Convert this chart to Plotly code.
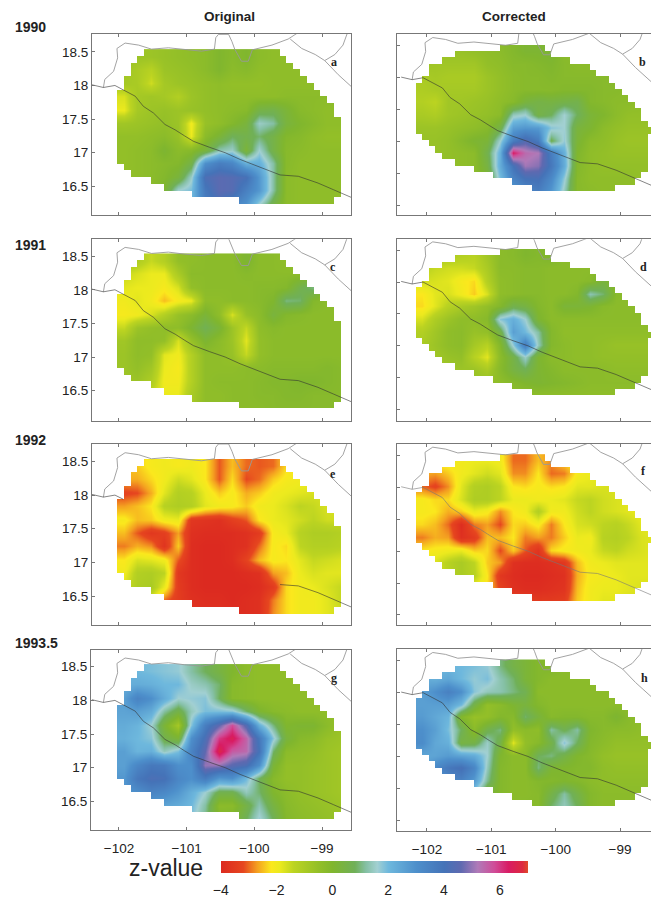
import plotly.graph_objects as go

# ---------- chart data ----------
lon_left = [-101.93, -101.73, -101.53, -101.33, -101.13, -100.93, -100.73, -100.53, -100.33,
            -100.13, -99.93, -99.73, -99.53, -99.33, -99.13, -98.93, -98.73]
lon_right = [-102.07, -101.87, -101.67, -101.47, -101.27, -101.07, -100.87, -100.67, -100.47, -100.27,
             -100.07, -99.87, -99.67, -99.47, -99.27, -99.07, -98.87, -98.67, -98.47]
lat_left = [18.44, 18.24, 18.04, 17.84, 17.64, 17.44, 17.24, 17.04, 16.84, 16.64, 16.44, 16.24]
lat_right = [18.42, 18.22, 18.02, 17.82, 17.62, 17.42, 17.22, 17.02, 16.82, 16.62, 16.42, 16.22]

z_a = [
 [-.6,-.7,-.7,-.6,-.5,-.4,-.3,0,-.2,0,-.3,-.4,-.4,-.4,-.4,-.4,-.4],
 [-.8,-1,-1.3,-.7,-.6,-.5,-.3,0,-.3,-.2,-.4,-.4,-.4,-.4,-.4,-.3,-.3],
 [-.9,-1,-1.6,-.9,-.7,-.6,-.5,-.4,-.5,-.5,-.5,-.4,-.4,-.4,-.4,-.3,-.3],
 [-1.7,-.9,-.8,-.9,-1.2,-.7,-.5,-.4,-.4,-.4,-.4,-.4,-.3,-.3,-.3,-.3,-.3],
 [-1.9,-.9,-.7,-.6,-.7,-.6,-.5,-.4,-.3,-.2,.5,.6,.2,-.2,-.3,-.4,-.4],
 [-.8,-.7,-.6,-.5,-.7,-2,-.6,-.4,-.1,.3,1.5,1.2,.3,0,-.2,-.4,-.4],
 [-.5,-.5,-.4,-.3,-.6,-1.9,-.3,.2,.8,.6,.9,.5,-.1,-.2,-.4,-.5,-.5],
 [-.5,-.4,-.3,.1,-.3,-.2,.3,1.3,1.5,.2,1.6,.5,-.2,-.3,-.4,-.4,-.4],
 [-.5,-.4,-.3,-.2,-.1,.5,3.0,3.6,3.3,2.2,2.2,1.2,-.2,-.4,-.4,-.4,-.4],
 [-.5,-.4,-.3,-.1,.3,1.5,4.2,4.5,4.4,4.1,2.8,1.2,-.3,-.4,-.4,-.4,-.4],
 [-.5,-.4,-.3,.1,1.6,1.9,3.8,4.5,4.4,3.5,2.8,1.2,-.3,-.4,-.4,-.4,-.4],
 [-.4,-.3,0,.5,1.6,2.0,3.6,4.0,3.4,2.9,1.6,.5,-.3,-.4,-.4,-.4,-.4],
]
z_c = [
 [-.9,-1.1,-1.5,-1.2,-.5,-.4,-.3,-.3,-.3,.1,-.3,-.3,-.4,-.4,-.4,-.4,-.4],
 [-1.5,-1.7,-1.9,-1.9,-1.0,-.3,-.3,-.3,-.3,-.2,-.3,-.3,-.3,-.3,-.3,-.3,-.3],
 [-1.8,-1.9,-1.9,-2.1,-1.7,-.5,-.3,-.3,-.3,-.3,-.2,-.2,-.1,.6,1.0,-.2,-.3],
 [-2,-1.8,-2,-2.5,-2.1,-1.9,-.4,-.4,-.3,-.3,-.2,0,1.0,.9,-.1,-.3,-.3],
 [-2.1,-2,-1.7,-1.2,-.6,-.3,.2,-.4,-1.7,-.6,-.3,.3,-.1,-.2,-.3,-.3,-.3],
 [-1.5,-.7,-.5,-.4,-.4,.1,.7,.2,-.7,-1.5,-.4,-.2,-.3,-.3,-.3,-.3,-.3],
 [-.8,-.4,-.4,-.5,-1.7,-.6,.1,-.3,-.7,-1.8,-.5,-.3,-.3,-.3,-.3,-.3,-.3],
 [-.7,-.4,-.5,-1.8,-2,-1.2,-.4,-.4,-.6,-1.5,-.5,-.3,-.3,-.3,-.3,-.3,-.3],
 [-.7,-.5,-.8,-1.9,-2.1,-1.2,-.4,-.4,-.4,-.3,-.3,-.2,-.2,-.2,-.2,-.1,-.2],
 [-.8,-.7,-1.1,-2,-2,-1.2,-.4,-.3,-.3,-.3,-.2,-.1,-.1,0,0,-.1,-.2],
 [-.8,-.8,-1.5,-1.9,-1.9,-1,-.4,-.4,-.3,-.3,-.2,-.2,-.1,-.1,-.2,-.2,-.2],
 [-.8,-.8,-1.4,-1.8,-1.8,-.9,-.4,-.4,-.3,-.3,-.3,-.2,-.2,-.2,-.2,-.2,-.2],
]
z_e = [
 [-2.5,-2.4,-2.1,-2.0,-2.1,-2.0,-2.2,-3.1,-2.5,-3.0,-3.1,-3.0,-2.3,-2,-2,-2,-2],
 [-2.6,-2.6,-2.3,-2,-1.6,-1.8,-2.2,-3.1,-2.3,-3.2,-3,-2.4,-2.1,-2,-2,-1.9,-1.9],
 [-3.3,-3.2,-2.6,-1.8,-1.2,-1.3,-1.9,-2.4,-2.1,-2.6,-2.4,-2.0,-1.9,-1.8,-1.7,-1.7,-1.7],
 [-2.7,-2.5,-2.2,-1.3,-1.1,-1.2,-1.8,-2.0,-2.1,-2.4,-2,-1.9,-1.7,-1.4,-1.5,-1.7,-1.7],
 [-2.1,-2.5,-2.4,-2.0,-1.9,-3.6,-3.7,-3.8,-3.4,-3.1,-2.2,-1.9,-1.8,-1.6,-1.4,-1.6,-1.6],
 [-2.5,-3.1,-3.6,-3.4,-2.7,-3.8,-3.9,-3.9,-3.9,-3.8,-3.5,-2.1,-1.9,-1.3,-1.1,-1.1,-1.2],
 [-2.9,-2.6,-2.8,-3.7,-2.4,-3.9,-4,-4,-3.9,-3.8,-3,-2.1,-2.3,-1.4,-1.2,-1.2,-1.3],
 [-2.2,-1.7,-1.8,-2,-3.1,-3.9,-4,-4,-3.9,-3.3,-2.5,-2.1,-2.2,-1.8,-1.5,-1.6,-1.7],
 [-2,-1.2,-1.1,-1.4,-3.6,-3.9,-4,-4,-4,-3.9,-3.8,-2.7,-2.5,-1.9,-1.7,-1.8,-1.8],
 [-1.7,-1.1,-1.0,-1.9,-3.5,-3.9,-4,-4,-4,-4,-3.9,-3.5,-2.3,-2,-1.9,-1.7,-1.5],
 [-1.8,-1.5,-1.8,-3.0,-3.5,-3.8,-3.9,-3.9,-4,-3.9,-3.8,-2.9,-2.3,-2,-2,-1.8,-1.5],
 [-2,-2,-2.5,-3,-3.3,-3.7,-3.8,-3.8,-3.9,-3.9,-3.8,-2.8,-2.3,-2,-2,-1.8,-1.6],
]
z_g = [
 [2.2,2.0,1.9,1.8,1.7,1.2,.8,.4,0,-.3,-.4,-.4,-.4,-.4,-.4,-.4,-.4],
 [2.2,2.3,2.2,2.0,2.0,1.5,1.3,.9,-.2,-.3,-.4,-.4,-.4,-.4,-.4,-.4,-.4],
 [2.6,3.4,3.0,2.3,1.6,1.7,1.8,.8,-.2,-.3,-.4,-.4,-.4,-.4,-.4,-.3,-.3],
 [2.5,2.6,2.3,1.2,.5,1.4,1.9,1.9,1.8,.9,.1,-.2,-.3,-.4,-.4,-.4,-.4],
 [2.3,2.1,1.6,.2,-.9,1.8,3.6,4.6,5.8,4.4,2.2,1.0,0,.1,.1,-.3,-.6],
 [2.2,2.0,1.8,.6,.2,3.0,4.2,6.0,6.5,5.5,3.8,1.8,.3,-.2,-.3,-.6,-.7],
 [2.6,2.1,2.2,1.4,1.9,3.4,4.6,6.7,5.6,5.4,4.0,.9,-.3,-.4,-.5,-.7,-.8],
 [2.6,3.3,3.8,3.7,3.0,3.0,5.0,5.0,4.5,4.2,3.0,.2,-.5,-.5,-.6,-.7,-.8],
 [2.8,3.8,4.2,4.1,3.3,3.0,3.7,2.8,3.0,2.0,.8,-.2,-.5,-.5,-.6,-.7,-.8],
 [2.8,3.0,3.4,3.2,2.8,2.2,1.6,.6,.6,1.4,.9,0,-.3,-.5,-.6,-.7,-.8],
 [2.6,2.6,2.6,2.5,2.3,2,1.2,-.3,-.3,.5,1.3,.4,-.2,-.4,-.5,-.6,-.7],
 [2.4,2.4,2.4,2.3,2.1,1.8,1.0,0,.1,.8,1.7,.8,-.1,-.3,-.4,-.5,-.6],
]
z_b = [
 [-.6,-.6,-.6,-.6,-.5,-.4,-.3,-.1,.1,.1,.2,-.3,-.3,-.3,-.3,-.3,-.3,-.3,-.3],
 [-.7,-.8,-.8,-.8,-.8,-.5,-.4,-.2,-.2,-.1,0,-.2,-.3,-.3,-.3,-.3,-.3,-.3,-.3],
 [-1,-.9,-1,-1,-1,-.7,-.5,-.3,-.2,-.2,-.1,-.2,-.2,-.2,-.2,-.2,-.3,-.3,-.3],
 [-1.1,-1,-.9,-.9,-.9,-.7,-.5,-.3,-.2,-.2,-.2,-.1,-.1,-.1,-.2,-.2,-.3,-.3,-.3],
 [-1.2,-1.4,-.8,-.8,-.7,-.6,-.4,-.2,.3,.5,.4,.5,.6,-.1,-.2,-.3,-.3,-.4,-.4],
 [-1,-1.1,-.8,-.7,-.6,-.5,-.3,1.4,1.6,.5,.8,1.6,.8,.2,0,-.3,-.5,-.5,-.5],
 [-.7,-.7,-.6,-.5,-.4,-.2,.5,2.6,2.8,2.7,1.8,1.6,.3,.1,-.3,-.5,-.6,-.6,-.6],
 [-.6,-.6,-.5,-.2,.1,.2,1.6,3.6,4.4,3.7,.7,1.7,.2,-.3,-.4,-.6,-.7,-.7,-.7],
 [-.6,-.6,-.5,-.4,-.3,.6,2.2,6.3,5.4,5.2,3.6,2.2,0,-.4,-.5,-.6,-.6,-.6,-.6],
 [-.5,-.5,-.5,-.4,-.3,.4,2.3,4.0,5.1,4.9,3.8,2.3,-.1,-.4,-.5,-.5,-.5,-.5,-.5],
 [-.5,-.5,-.4,-.4,-.3,.1,1.9,3.4,4,4.1,3.2,1.7,-.2,-.4,-.4,-.4,-.4,-.5,-.5],
 [-.5,-.5,-.4,-.4,-.3,0,1.2,2.6,3.2,3.6,2.8,1.4,-.2,-.3,-.4,-.4,-.4,-.4,-.4],
]
z_d = [
 [-1,-1,-1.1,-1.2,-1.3,-.8,-.3,-.2,0,-.1,.1,-.3,-.3,-.3,-.3,-.3,-.3,-.3,-.3],
 [-1.3,-1.5,-1.6,-1.6,-1.5,-1.0,-.3,-.3,-.2,-.2,-.3,-.3,-.3,-.3,-.3,-.3,-.3,-.3,-.3],
 [-1.6,-1.7,-1.8,-2.1,-2.3,-1.2,-.4,-.3,-.2,-.2,-.3,-.3,-.3,-.2,.3,-.2,-.3,-.3,-.3],
 [-2.2,-1.8,-1.7,-2,-2.4,-1.7,-.4,-.3,-.2,-.2,-.3,-.3,-.1,1.3,.9,-.2,-.3,-.3,-.3],
 [-2.3,-1.8,-1.3,-1.0,-.8,-.5,-.1,.6,.4,-.1,-.3,.2,.2,.1,-.2,-.3,-.3,-.3,-.3],
 [-1.7,-1.1,-.7,-.4,-.4,-.2,1.8,2.2,1.6,.1,-.3,-.3,-.3,-.3,-.3,-.3,-.3,-.3,-.3],
 [-1.2,-.8,-.4,-.3,-.6,-.5,.5,2.6,2.0,1.2,-.1,-.4,-.4,-.4,-.4,-.4,-.4,-.4,-.4],
 [-1,-.7,-.4,-.3,-.9,-1.3,-.1,1.7,3.6,1.4,-.1,-.3,-.4,-.4,-.5,-.6,-.6,-.6,-.6],
 [-1,-.8,-.6,-.5,-1.3,-1.8,-.3,.5,1.5,.1,-.3,-.3,-.4,-.4,-.5,-.5,-.5,-.5,-.5],
 [-1,-.9,-.8,-.7,-.7,-1.0,-.2,.4,.7,.1,-.1,-.3,-.3,-.3,-.3,-.4,-.4,-.4,-.4],
 [-.9,-.8,-.7,-.6,-.6,-.5,-.4,-.2,0,.1,0,-.1,-.2,-.3,-.3,-.3,-.3,-.3,-.3],
 [-.4,-.4,-.4,-.4,-.4,-.4,-.4,-.4,-.4,-.4,-.4,-.4,-.4,-.4,-.4,-.4,-.4,-.4,-.4],
]
z_f = [
 [-2,-2,-2,-2,-1.9,-1.9,-2,-3,-3,-2.5,-2.8,-2.3,-2,-2,-2,-2,-2,-2,-2],
 [-2.6,-2.7,-2.4,-2,-1.8,-1.6,-1.8,-2.8,-2.8,-2.2,-3,-2.9,-2.1,-1.9,-1.8,-1.8,-1.8,-1.8,-1.8],
 [-3,-3.3,-2.8,-1.8,-1.2,-1.1,-1.4,-2.2,-2.3,-2.1,-2.3,-2.2,-1.8,-1.8,-1.7,-1.7,-1.8,-1.8,-1.8],
 [-2.1,-2.3,-2.3,-1.7,-1.1,-1.1,-1.4,-1.9,-1.9,-2,-1.9,-1.8,-1.5,-1.4,-1.6,-1.7,-1.8,-1.8,-1.8],
 [-2.1,-2.2,-2.6,-2.4,-1.9,-2.1,-2.8,-2.2,-2,-1.2,-2,-2,-1.6,-1.4,-1.6,-1.7,-1.8,-1.9,-1.9],
 [-2.3,-2.5,-3,-3.9,-2.9,-2.7,-3.2,-2.3,-2.4,-2.1,-2.9,-2.2,-1.7,-1.6,-1.4,-1.3,-1.5,-1.8,-1.9],
 [-2.9,-2.6,-2.7,-3.8,-3.5,-2.5,-2.5,-2.2,-2.9,-2.7,-2.9,-2.4,-1.9,-2.0,-1.3,-1.2,-1.4,-1.7,-1.8],
 [-2.2,-2.1,-2,-1.9,-2.4,-2.3,-3.2,-2.4,-3.1,-3.7,-2.3,-2.1,-2,-1.9,-1.5,-1.4,-1.6,-1.7,-1.8],
 [-1.9,-1.7,-1.3,-1.0,-1.4,-2.4,-2.7,-3.8,-3.9,-3.9,-3.8,-3.6,-2.5,-2,-1.9,-1.8,-1.8,-1.8,-1.8],
 [-1.9,-1.8,-1.3,-1.0,-1.3,-2.2,-3.6,-3.9,-4,-4,-3.9,-3.8,-2.6,-2.1,-2,-1.9,-1.8,-1.8,-1.8],
 [-2,-2,-2,-2,-2,-2.3,-3.3,-3.8,-3.9,-3.9,-3.8,-3.7,-2.5,-2,-1.9,-1.9,-1.8,-1.7,-1.7],
 [-2,-2,-2,-2,-2,-2.3,-3,-3.2,-3.4,-3.5,-3.5,-3.4,-2.4,-2,-1.8,-1.8,-1.7,-1.7,-1.7],
]
z_h = [
 [2,2,2,2,1.9,1.7,1,.5,.2,-.1,0,-.3,-.3,-.3,-.3,-.3,-.3,-.3,-.3],
 [2.3,2.2,2.4,2,1.7,1.9,1.3,.9,.2,-.1,-.3,-.3,-.3,-.3,-.3,-.3,-.3,-.3,-.3],
 [2.6,3,3.5,3.0,1.8,1.4,1.3,1.0,.7,-.3,-.3,-.3,-.3,-.3,-.3,-.3,-.3,-.3,-.3],
 [2.6,2.6,2.6,2.0,.5,-.5,-.3,.1,.3,-.1,-.3,-.3,-.3,-.3,-.3,-.3,-.3,-.3,-.3],
 [2.7,2.4,2.1,-.1,-.6,-.5,-.1,-.2,.9,.3,-.2,-.1,-.1,-.2,-.2,.1,-.2,-.4,-.5],
 [3.0,2.6,1.9,.8,-.3,.6,1.0,-.5,-.3,-.4,1.2,.7,1.2,0,-.2,-.3,-.3,-.4,-.5],
 [3.1,2.4,2.2,.4,.5,1.5,.5,-1.8,-.5,-.2,.5,1.8,.8,-.1,-.3,-.5,-.5,-.5,-.5],
 [2.4,2.5,2.7,2.5,2.3,1.6,0,-.3,-.3,.8,1,.5,0,-.2,-.5,-.6,-.6,-.6,-.6],
 [2.2,3.2,3.8,4.1,3.3,1.4,-.1,-.3,-.3,1.0,.1,0,-.1,-.1,-.4,-.5,-.5,-.5,-.5],
 [2.2,2.6,3.2,3.4,2.7,1.1,-.1,-.3,-.3,-.1,-.1,0,-.1,-.3,-.4,-.4,-.4,-.4,-.4],
 [2,2,2,2,1.6,.2,-.1,-.3,-.3,-.2,.5,1.2,.5,-.1,-.3,-.3,-.3,-.3,-.3],
 [2,2,2,1.8,.9,0,-.3,-.3,-.2,-.2,.9,1.4,.8,-.1,-.3,-.3,-.3,-.3,-.3],
]

# footprint of the survey: first and last+1 column of each 0.1-degree row
foot_left_lo = [4,3,2,2,1,1,0,0,0,0,0,0,0,0,0,0,0,1,2,5,7,11,18]
foot_left_hi = [24,25,26,27,28,29,30,31,32,32,33,33,33,33,33,33,33,33,33,33,33,33,32]
foot_right_lo = [13,6,4,2,2,1,0,0,0,0,0,0,0,0,1,2,3,4,6,9,12,15,18]
foot_right_hi = [20,21,24,27,28,30,31,32,33,34,35,35,36,37,36,36,36,36,36,36,35,34,31]

coast_lon = [-102.40,-102.23,-102.06,-101.94,-101.76,-101.64,-101.49,-101.32,-101.17,-101.03,-100.90,
             -100.66,-100.43,-100.21,-99.94,-99.62,-99.35,-99.06,-98.83,-98.57,-98.30]
coast_lat = [18.01,17.97,18.00,17.94,17.84,17.69,17.59,17.42,17.34,17.25,17.17,
             17.08,17.00,16.90,16.80,16.67,16.65,16.55,16.45,16.34,16.22]
border_lon = [-102.23,-102.21,-102.08,-102.02,-102.03,-101.91,-101.71,-101.52,-101.27,-101.03,-100.78,-100.59,
              -100.57,-100.53,-100.38,-100.33,-100.29,-100.19,-100.09,-100.03,-99.74,-99.50,-99.39,-99.30,None,
              -99.47,-99.30,-99.10,-98.96,-98.76,-98.57,-98.41,None,
              -98.96,-98.81,-98.69,-98.64,-98.60]
border_lat = [17.97,18.09,18.21,18.41,18.55,18.63,18.60,18.54,18.56,18.53,18.51,18.54,
              18.71,18.76,18.76,18.65,18.54,18.36,18.36,18.53,18.60,18.69,18.76,18.82,None,
              18.69,18.55,18.46,18.37,18.16,17.99,17.84,None,
              18.37,18.46,18.60,18.76,18.85]

x_ticks = [-102, -101, -100, -99]
y_ticks_left = [16.5, 17, 17.5, 18, 18.5]
y_ticks_right = [16, 16.5, 17, 17.5, 18, 18.5]
cbar_ticks = [-4, -2, 0, 2, 4, 6]
z_min, z_max = -4, 7
years = ["1990", "1991", "1992", "1993.5"]
year_y = [27, 246, 441, 645]
letters = ["a", "b", "c", "d", "e", "f", "g", "h"]
letter_pos = [(334,62),(642,62),(333,268),(643,268),(333,476),(643,473),(334,680),(644,680)]

stops = [(-4,"#dc2a20"),(-3.2,"#e6461f"),(-2.7,"#f4a020"),(-2.2,"#fbe81d"),(-1.9,"#ecea1e"),(-1.4,"#bcd421"),
         (-.5,"#93bf28"),(0,"#80b62e"),(.8,"#70b058"),(1.2,"#85c0a5"),(1.6,"#a2d0d2"),(2,"#6eb8dd"),
         (3,"#4d8fcb"),(4,"#4573b8"),(4.6,"#5f69b0"),(5.2,"#b07ab8"),(5.8,"#d04c98"),(6.3,"#d81c64"),
         (6.8,"#dd2a40"),(7,"#e04a2a")]
colorscale = [[(v - z_min) / (z_max - z_min), c] for v, c in stops]

W, H = 651, 899
FONT = "Liberation Sans, Arial, sans-serif"
AXC = "#777777"
TXT = "#222222"

def mask_trace(lon0, lat0, lo, hi, xa, ya):
    cols = list(range(-8, max(hi) + 8))
    rows = list(range(-5, len(lo) + 10))
    xs = [lon0 + (c + .5) * .1 for c in cols]
    ys = [lat0 - (r + .5) * .1 for r in rows]
    z = []
    for r in rows:
        row = []
        for c in cols:
            inside = 0 <= r < len(lo) and lo[r] <= c < hi[r]
            row.append(None if inside else 1)
        z.append(row)
    return go.Heatmap(x=xs, y=ys, z=z, colorscale=[[0, "white"], [1, "white"]], showscale=False,
                      hoverinfo="skip", xaxis=xa, yaxis=ya)

panels = [
 dict(z=z_a, top=34, bot=216, l=92, r=351, side="L"),
 dict(z=z_b, top=34, bot=216, l=397, r=651, side="R"),
 dict(z=z_c, top=240, bot=422, l=92, r=351, side="L"),
 dict(z=z_d, top=240, bot=422, l=397, r=651, side="R"),
 dict(z=z_e, top=445, bot=627, l=92, r=351, side="L"),
 dict(z=z_f, top=445, bot=627, l=397, r=651, side="R"),
 dict(z=z_g, top=652, bot=833, l=91, r=351, side="L"),
 dict(z=z_h, top=651, bot=834, l=397, r=651, side="R"),
]

fig = go.Figure()
layout = {}
for i, p in enumerate(panels):
    n = "" if i == 0 else str(i + 1)
    xa, ya = "x" + n, "y" + n
    left = p["side"] == "L"
    bottom = i >= 6
    fig.add_trace(go.Heatmap(
        x=lon_left if left else lon_right, y=lat_left if left else lat_right, z=p["z"],
        coloraxis="coloraxis", zsmooth="best", hoverinfo="skip", xaxis=xa, yaxis=ya))
    if left:
        fig.add_trace(mask_trace(-102.03, 18.54, foot_left_lo, foot_left_hi, xa, ya))
    else:
        fig.add_trace(mask_trace(-102.17, 18.52, foot_right_lo, foot_right_hi, xa, ya))
    fig.add_trace(go.Scatter(x=border_lon, y=border_lat, mode="lines", hoverinfo="skip", showlegend=False,
                             line=dict(color="#999999", width=0.9), xaxis=xa, yaxis=ya))
    if letters[i] == "e":
        cx = [None if -101.9 < v < -99.75 else v for v in coast_lon]
    else:
        cx = coast_lon
    coast_col = "#777777" if letters[i] == "f" else "#333333"
    fig.add_trace(go.Scatter(x=cx, y=coast_lat, mode="lines", hoverinfo="skip", showlegend=False,
                             line=dict(color=coast_col, width=0.6), xaxis=xa, yaxis=ya))
    if left:
        xr = [-102 + (p["l"] - 119) / 67.7, -99 + (p["r"] - 322) / 67.7]
        y185 = {34: 52, 240: 257, 445: 463, 652: 669}[p["top"]]
        yr = [18.5 - (p["bot"] - y185) / 67.5, 18.5 + (y185 - p["top"]) / 67.5]
    else:
        xr = [-102 + (p["l"] - 427) / 64.5, -99 + (p["r"] - 620) / 64.5]
        y18 = {34: 78, 240: 283, 445: 489, 651: 695}[p["top"]]
        yr = [18 - (p["bot"] - y18) / 64, 18 + (y18 - p["top"]) / 64]
    layout["xaxis" + n] = dict(
        domain=[p["l"] / W, p["r"] / W], range=xr, anchor=ya, tickvals=x_ticks, showgrid=False, zeroline=False,
        showline=True, linecolor=AXC, linewidth=1, mirror="ticks", ticks="inside", ticklen=3, tickcolor=AXC,
        showticklabels=bottom, tickfont=dict(family=FONT, size=13.5, color=TXT), ticklabelstandoff=6)
    layout["yaxis" + n] = dict(
        domain=[1 - p["bot"] / H, 1 - p["top"] / H], range=yr, anchor=xa,
        tickvals=y_ticks_left if left else y_ticks_right, showgrid=False, zeroline=False,
        showline=True, linecolor=AXC, linewidth=1, mirror=left, ticks="inside", ticklen=3, tickcolor=AXC,
        showticklabels=left, tickfont=dict(family=FONT, size=13.5, color=TXT))

def note(x, y, text, size, bold=False, family=FONT, color=TXT, anchor="center"):
    return dict(xref="paper", yref="paper", x=x / W, y=1 - y / H, text=f"<b>{text}</b>" if bold else text,
                showarrow=False, xanchor=anchor, yanchor="middle",
                font=dict(family=family, size=size, color=color))

ann = [note(229, 17, "Original", 13.5, True), note(514, 17, "Corrected", 13.5, True),
       note(127, 871, "z-value", 23, anchor="left")]
for t, y in zip(years, year_y):
    ann.append(note(13, y, t, 14, True, anchor="left"))
for t, (x, y) in zip(letters, letter_pos):
    ann.append(note(x, y, t, 12, True, family="Liberation Serif, serif"))

fig.update_layout(
    width=W, height=H, autosize=False, margin=dict(l=0, r=0, t=0, b=0, pad=0),
    paper_bgcolor="white", plot_bgcolor="white", showlegend=False, annotations=ann,
    coloraxis=dict(cmin=z_min, cmax=z_max, colorscale=colorscale, colorbar=dict(
        orientation="h", lenmode="pixels", len=307, thicknessmode="pixels", thickness=12,
        x=220.7 / W, xanchor="left", y=1 - 864 / H, yanchor="top", xpad=0, ypad=0,
        tickvals=cbar_ticks, ticks="outside", ticklen=6, tickcolor="rgba(0,0,0,0)", outlinewidth=0,
        tickfont=dict(family=FONT, size=14, color=TXT))),
    **layout)

fig.write_html("out.html", post_script="document.body.style.margin='0';",
               config={"displayModeBar": False})
